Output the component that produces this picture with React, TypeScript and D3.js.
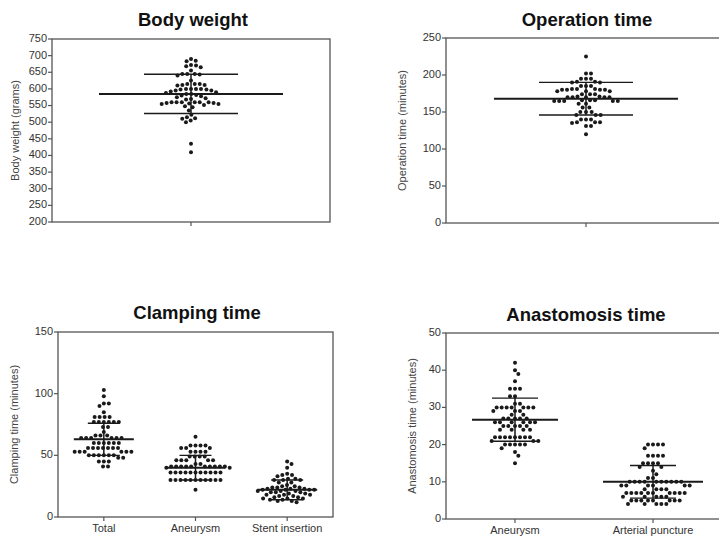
import React from 'react';
import * as d3 from 'd3';

// values
const bodyWeight = [690, 685, 683, 672, 670, 668, 665, 655, 645, 645, 645, 643, 640, 625, 615, 615, 615, 612, 612, 610, 600, 600, 600, 600, 598, 598, 595, 595, 592, 590, 588, 585, 585, 582, 580, 578, 575, 572, 570, 568, 560, 560, 560, 560, 560, 560, 558, 558, 556, 555, 555, 552, 548, 545, 535, 522, 515, 512, 510, 505, 500, 435, 410];
const operationTime = [225, 202, 202, 195, 195, 195, 191, 191, 190, 190, 185, 185, 185, 181, 181, 181, 180, 180, 180, 180, 178, 178, 178, 174, 174, 174, 171, 171, 170, 170, 170, 170, 170, 166, 166, 166, 165, 165, 165, 165, 165, 161, 161, 156, 156, 150, 150, 150, 146, 146, 146, 140, 140, 140, 136, 136, 136, 135, 131, 131, 120];

const clampingCategories = ['Total', 'Aneurysm', 'Stent insertion'];
const clampingTotal = [103, 98, 92, 92, 90, 85, 81, 81, 81, 81, 77, 77, 77, 77, 77, 77, 73, 73, 69, 66, 66, 66, 64, 64, 64, 64, 64, 64, 60, 60, 60, 60, 60, 60, 56, 56, 56, 56, 56, 56, 56, 53, 53, 53, 53, 53, 53, 50, 50, 50, 50, 50, 50, 48, 48, 45, 45, 45, 41, 41];
const clampingAneurysm = [65, 58, 58, 58, 58, 56, 56, 56, 53, 53, 53, 53, 49, 49, 49, 49, 46, 46, 46, 46, 46, 43, 43, 41, 41, 41, 41, 41, 41, 41, 41, 41, 41, 40, 40, 36, 36, 36, 36, 36, 36, 36, 36, 36, 36, 36, 30, 30, 30, 30, 30, 30, 30, 30, 30, 30, 30, 22];
const clampingStent = [45, 43, 40, 35, 34, 34, 33, 31, 31, 30, 30, 30, 28, 28, 26, 25, 25, 24, 24, 24, 23, 23, 23, 22, 22, 22, 22, 21, 21, 21, 20, 20, 20, 19, 19, 18, 18, 18, 17, 17, 16, 16, 15, 15, 15, 14, 14, 13, 13, 12];

const anastomosisCategories = ['Aneurysm', 'Arterial puncture'];
const anastomosisAneurysm = [42, 40, 39, 37, 35, 35, 35, 33, 33, 31, 31, 30, 30, 30, 30, 30, 30, 30, 29, 29, 29, 28, 28, 27, 27, 27, 27, 27, 26, 26, 26, 26, 26, 26, 25, 25, 25, 25, 25, 24, 24, 24, 24, 22, 22, 22, 22, 22, 22, 22, 22, 21, 21, 21, 20, 20, 20, 20, 20, 19, 18, 17, 15];
const anastomosisArterial = [20, 20, 20, 20, 19, 17, 17, 17, 17, 15, 15, 15, 15, 14, 14, 13, 12, 11, 11, 10, 10, 10, 10, 10, 10, 10, 10, 10, 10, 9, 9, 9, 9, 9, 9, 8, 8, 8, 8, 7, 7, 7, 7, 7, 7, 7, 7, 7, 7, 6, 6, 6, 6, 6, 5, 5, 5, 5, 5, 5, 5, 5, 4, 4, 4, 4, 4];

// mean and SD
const bodyWeightMean = [585];
const bodyWeightSd = [59];
const operationMean = [168];
const operationSd = [22];
const clampingMeans = [63, 40, 22];
const clampingSds = [13, 10, 8];
const anastomosisMeans = [26.7, 10];
const anastomosisSds = [5.8, 4.4];

// tick labels
const bodyWeightTicks = [200, 250, 300, 350, 400, 450, 500, 550, 600, 650, 700, 750];
const operationTicks = [0, 50, 100, 150, 200, 250];
const clampingTicks = [0, 50, 100, 150];
const anastomosisTicks = [0, 10, 20, 30, 40, 50];

const FONT = '"Liberation Sans", Arial, Helvetica, sans-serif';
const AXIS = '#555';
const INK = '#1a1a1a';
const R = 2;

// beeswarm: each dot goes to the free x nearest the column centre
function swarm(values: number[], y: (v: number) => number, d = 5) {
  const placed: { x: number; y: number }[] = [];
  const sorted = [...values].sort((a, b) => b - a);
  let balance = 0;
  sorted.forEach((v) => {
    const cy = y(v);
    const spans: [number, number][] = [];
    placed.forEach((p) => {
      const dy = p.y - cy;
      if (Math.abs(dy) < d) {
        const h = Math.sqrt(d * d - dy * dy);
        spans.push([p.x - h, p.x + h]);
      }
    });
    const cands = [0];
    spans.forEach(([a, b]) => cands.push(a, b));
    const free = cands.filter((c) => spans.every(([a, b]) => c <= a + 1e-6 || c >= b - 1e-6));
    const best = d3.min(free, (c) => Math.abs(c)) as number;
    const ties = free.filter((c) => Math.abs(Math.abs(c) - best) < 0.05);
    let cx = ties[0];
    if (ties.length > 1) cx = balance > 0 ? d3.min(ties)! : d3.max(ties)!;
    balance += Math.sign(cx);
    placed.push({ x: cx, y: cy });
  });
  return placed;
}

type Group = { name: string; values: number[]; mean: number; sd: number };

type PanelProps = {
  title: string;
  yLabel: string;
  left: number;
  right: number;
  top: number;
  bottom: number;
  domain: [number, number];
  ticks: number[];
  groups: Group[];
  meanHalf: number[];
  sdHalf: number;
  titleX: number;
  titleY: number;
  labelX: number;
  showCategories: boolean;
};

const Panel = (p: PanelProps) => {
  const y = d3.scaleLinear().domain(p.domain).range([p.bottom, p.top]);
  const x = d3
    .scalePoint<string>()
    .domain(p.groups.map((g) => g.name))
    .range([p.left, p.right])
    .padding(0.5);
  return (
    <g>
      <text x={p.titleX} y={p.titleY} textAnchor="middle" fontFamily={FONT} fontWeight="bold" fontSize={18.5} fill="#111">
        {p.title}
      </text>
      <text
        transform={`translate(${p.labelX},${(p.top + p.bottom) / 2}) rotate(-90)`}
        textAnchor="middle"
        dominantBaseline="middle"
        fontFamily={FONT}
        fontSize={11}
        fill="#444"
      >
        {p.yLabel}
      </text>
      <rect x={p.left} y={p.top} width={p.right - p.left} height={p.bottom - p.top} fill="none" stroke={AXIS} strokeWidth={1.3} />
      {p.ticks.map((t) => (
        <g key={t}>
          <line x1={p.left - 4} x2={p.left} y1={y(t)} y2={y(t)} stroke={AXIS} strokeWidth={1.2} />
          <text x={p.left - 5} y={y(t)} textAnchor="end" dominantBaseline="middle" fontFamily={FONT} fontSize={11} fill="#333">
            {t}
          </text>
        </g>
      ))}
      {p.groups.map((g, i) => {
        const cx = x(g.name) as number;
        const dots = swarm(g.values, y);
        return (
          <g key={g.name + i}>
            <line x1={cx} x2={cx} y1={p.bottom} y2={p.bottom + 4} stroke={AXIS} strokeWidth={1.2} />
            {p.showCategories && (
              <text x={cx} y={p.bottom + 15} textAnchor="middle" fontFamily={FONT} fontSize={11} fill="#333">
                {g.name}
              </text>
            )}
            {dots.map((d, j) => (
              <circle key={j} cx={cx + d.x} cy={d.y} r={R} fill={INK} />
            ))}
            <line x1={cx} x2={cx} y1={y(g.mean - g.sd)} y2={y(g.mean + g.sd)} stroke={INK} strokeWidth={1.5} />
            <line x1={cx - p.sdHalf} x2={cx + p.sdHalf} y1={y(g.mean + g.sd)} y2={y(g.mean + g.sd)} stroke={INK} strokeWidth={1.4} />
            <line x1={cx - p.sdHalf} x2={cx + p.sdHalf} y1={y(g.mean - g.sd)} y2={y(g.mean - g.sd)} stroke={INK} strokeWidth={1.4} />
            <line x1={cx - p.meanHalf[i]} x2={cx + p.meanHalf[i]} y1={y(g.mean)} y2={y(g.mean)} stroke={INK} strokeWidth={2} />
          </g>
        );
      })}
    </g>
  );
};

const App = () => {
  return (
    <div style={{ position: 'absolute', left: 0, top: 0 }}>
      <svg width={719} height={537} style={{ display: 'block', background: '#fff' }}>
        <Panel
          title="Body weight"
          yLabel="Body weight (grams)"
          left={52}
          right={330}
          top={39}
          bottom={222}
          domain={[200, 750]}
          ticks={bodyWeightTicks}
          groups={[{ name: 'Body weight', values: bodyWeight, mean: bodyWeightMean[0], sd: bodyWeightSd[0] }]}
          meanHalf={[92]}
          sdHalf={47}
          titleX={193}
          titleY={26}
          labelX={16}
          showCategories={false}
        />
        <Panel
          title="Operation time"
          yLabel="Operation time (minutes)"
          left={446}
          right={726}
          top={38}
          bottom={223}
          domain={[0, 250]}
          ticks={operationTicks}
          groups={[{ name: 'Operation time', values: operationTime, mean: operationMean[0], sd: operationSd[0] }]}
          meanHalf={[92]}
          sdHalf={47}
          titleX={587}
          titleY={26}
          labelX={403}
          showCategories={false}
        />
        <Panel
          title="Clamping time"
          yLabel="Clamping time (minutes)"
          left={58}
          right={333}
          top={332}
          bottom={517}
          domain={[0, 150]}
          ticks={clampingTicks}
          groups={clampingCategories.map((c, i) => ({
            name: c,
            values: [clampingTotal, clampingAneurysm, clampingStent][i],
            mean: clampingMeans[i],
            sd: clampingSds[i],
          }))}
          meanHalf={[30, 30, 30]}
          sdHalf={16}
          titleX={197}
          titleY={319}
          labelX={15}
          showCategories={true}
        />
        <Panel
          title="Anastomosis time"
          yLabel="Anastomosis time (minutes)"
          left={446}
          right={722}
          top={333}
          bottom={519}
          domain={[0, 50]}
          ticks={anastomosisTicks}
          groups={anastomosisCategories.map((c, i) => ({
            name: c,
            values: [anastomosisAneurysm, anastomosisArterial][i],
            mean: anastomosisMeans[i],
            sd: anastomosisSds[i],
          }))}
          meanHalf={[43, 50]}
          sdHalf={23}
          titleX={586}
          titleY={321}
          labelX={413}
          showCategories={true}
        />
      </svg>
    </div>
  );
};

export default App;
